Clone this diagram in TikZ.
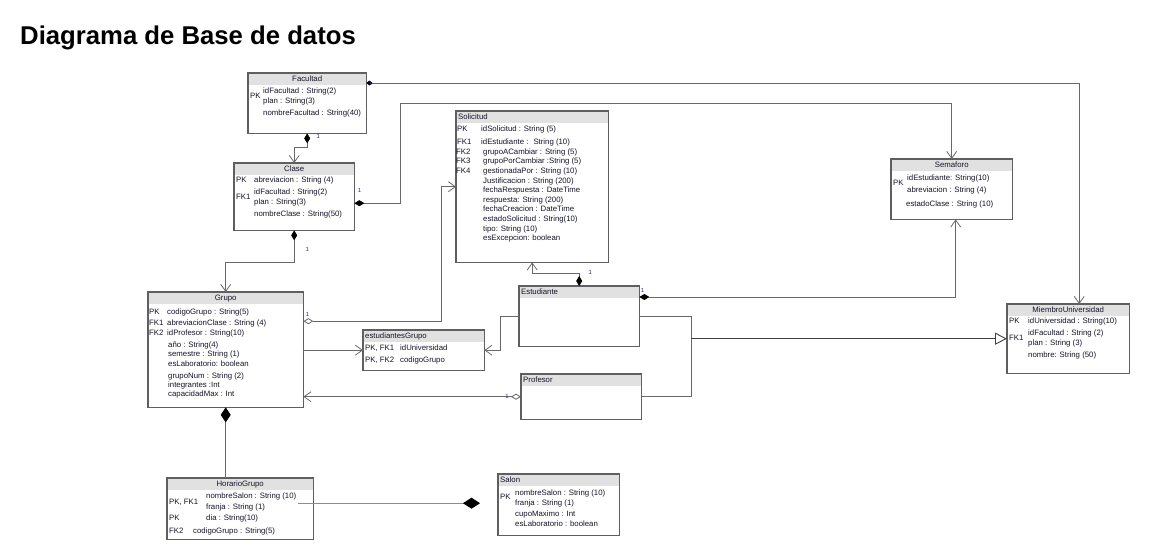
\documentclass[tikz,border=0pt]{standalone}
\usepackage{fontspec}
\setmainfont{Liberation Sans}
\usetikzlibrary{arrows.meta}

\definecolor{lineas}{RGB}{105,105,105}
\definecolor{bordes}{RGB}{95,95,95}
\definecolor{gris}{RGB}{225,225,225}
\definecolor{gris2}{RGB}{140,140,140}
\definecolor{texto}{RGB}{20,20,40}
\definecolor{azul}{RGB}{40,40,170}

\begin{document}
\begin{tikzpicture}[x=1pt,y=-1pt,
  tabla/.style={anchor=north west, fill=white, inner sep=0pt},
  borde/.style={draw=bordes, line width=1.1pt},
  titulo/.style={font=\fontsize{7.8}{8}\selectfont, text=texto, inner sep=0pt},
  atrib/.style={font=\fontsize{7.8}{8}\selectfont, text=texto, inner sep=0pt, anchor=mid west},
  uno/.style={font=\fontsize{6}{6}\selectfont, text=azul, inner sep=1pt},
  linea/.style={draw=lineas, line width=0.8pt},
  comp/.style={linea, {Diamond[length=10pt,width=6pt,color=black]}-{Straight Barb[length=7pt,width=10pt]}},
  agr/.style={linea, {Diamond[open,length=10pt,width=6pt]}-{Straight Barb[length=7pt,width=10pt]}},
  abre/.style={linea, -{Straight Barb[length=7pt,width=10pt]}},
  hereda/.style={draw=black!75, line width=0.9pt, -{Triangle[open,length=12pt,width=12pt]}}]
\useasboundingbox (0,0) rectangle (1151,557);

\node[anchor=base west, inner sep=0pt, font=\fontsize{25.7}{30}\selectfont\bfseries] (titulo) at (20,44) {Diagrama de Base de datos};

% tablas
\foreach \n/\x/\y/\w/\h in {facultad/248/73/118/60, clase/234/163/120/67, solicitud/456/111/152/151,
  semaforo/891/159/121/60, grupo/148/292/155/115, estgrupo/363/330/121/40, estudiante/519/286/120/60,
  profesor/521/374/120/45, miembro/1007/304/122/69, horario/167/478/146/61, salon/498/474/121/61} {
  \node[tabla, minimum width=\w pt, minimum height=\h pt] (\n) at (\x,\y) {};
  \fill[gris] (\n.north west) rectangle ++(\w,12);
  \draw[borde] (\n.north west) rectangle (\n.south east);
}
\foreach \n/\t in {facultad/Facultad, clase/Clase, semaforo/Semaforo, grupo/Grupo, miembro/MiembroUniversidad, horario/HorarioGrupo}
  \node[titulo, anchor=mid] (\n-tit) at ([yshift=-6pt]\n.north) {\t};
\foreach \n/\t in {solicitud/Solicitud, estgrupo/estudiantesGrupo, estudiante/Estudiante, profesor/Profesor, salon/Salon}
  \node[titulo, anchor=mid west] (\n-tit) at ([shift={(2pt,-6pt)}]\n.north west) {\t};

% Facultad
\foreach \x/\y/\t [count=\i] in {250/96/PK, 263/91/idFacultad : String(2), 263/101/plan : String(3), 263/113/nombreFacultad : String(40)}
  \node[atrib] (facultad-\i) at (\x,\y) {\t};
% Clase
\foreach \x/\y/\t [count=\i] in {236/180/PK, 254/180/abreviacion : String (4), 236/197/FK1, 254/192/idFacultad : String(2),
  254/202/plan : String(3), 254/214/nombreClase : String(50)}
  \node[atrib] (clase-\i) at (\x,\y) {\t};
% Solicitud
\foreach \x/\y/\t [count=\i] in {457/129/PK, 481/129/idSolicitud : String (5), 457/142/FK1, 481/142/idEstudiante : \ String (10),
  456/152/FK2, 483/152/grupoACambiar : String (5), 456/161/FK3, 483/161/grupoPorCambiar :String (5),
  456/171/FK4, 483/171/gestionadaPor : String (10), 483/181/Justificacion : String (200), 483/190/fechaRespuesta : DateTime,
  483/200/respuesta: String (200), 483/209/fechaCreacion : DateTime, 483/219/estadoSolicitud : String(10),
  483/229/tipo: String (10), 483/238/esExcepcion: boolean}
  \node[atrib] (solicitud-\i) at (\x,\y) {\t};
% Semaforo
\foreach \x/\y/\t [count=\i] in {893/183/PK, 907/178/idEstudiante: String(10), 907/190/abreviacion : String (4), 906/204/estadoClase : String (10)}
  \node[atrib] (semaforo-\i) at (\x,\y) {\t};
% Grupo
\foreach \x/\y/\t [count=\i] in {149/312/PK, 167/312/codigoGrupo : String(5), 149/323/FK1, 167/323/abreviacionClase : String (4),
  149/333/FK2, 167/333/idProfesor : String(10), 168/345/año : String(4), 168/354/semestre : String (1),
  168/364/esLaboratorio: boolean, 168/376/grupoNum : String (2), 168/385/integrantes :Int, 168/394/capacidadMax : Int}
  \node[atrib] (grupo-\i) at (\x,\y) {\t};
% estudiantesGrupo
\foreach \x/\y/\t [count=\i] in {365/348/{PK, FK1}, 400/348/idUniversidad, 365/360/{PK, FK2}, 400/360/codigoGrupo}
  \node[atrib] (estgrupo-\i) at (\x,\y) {\t};
% MiembroUniversidad
\foreach \x/\y/\t [count=\i] in {1009/321/PK, 1028/321/idUniversidad : String(10), 1009/338/FK1, 1028/333/idFacultad : String (2),
  1028/343/plan : String (3), 1028/355/nombre: String (50)}
  \node[atrib] (miembro-\i) at (\x,\y) {\t};
% HorarioGrupo
\foreach \x/\y/\t [count=\i] in {169/502/{PK, FK1}, 206/496/nombreSalon : String (10), 206/507/franja : String (1),
  169/518/PK, 206/518/dia : String(10), 169/531/FK2, 193/531/codigoGrupo : String(5)}
  \node[atrib] (horario-\i) at (\x,\y) {\t};
% Salon
\foreach \x/\y/\t [count=\i] in {500/497/PK, 515/493/nombreSalon : String (10), 515/503/franja : String (1),
  515/514/cupoMaximo : Int, 515/524/esLaboratorio : boolean}
  \node[atrib] (salon-\i) at (\x,\y) {\t};

% relaciones
\draw[comp] (facultad.south) node[uno, anchor=north west, xshift=8pt] (uno-fac) {1} -- ++(0,14) -| (clase.north);
\draw[linea, {Diamond[length=6pt,width=5pt,color=black]}-{Straight Barb[length=7pt,width=10pt]}] ([yshift=-10pt]facultad.north east)
  node[uno, anchor=west, xshift=1pt] (uno-mie) {1} -| ([xshift=11pt]miembro.north);
\draw[comp] ([yshift=-6.5pt]clase.east) node[uno, anchor=south west, xshift=2pt, yshift=9pt] (uno-sem) {1}
  -- ++(46,0) -- ++(0,-100) -| (semaforo.north);
\draw[comp] (clase.south) node[uno, anchor=north west, xshift=10pt, yshift=-16pt] (uno-gru) {1} -- ++(0,32) -| (grupo.north);
\draw[agr] ([yshift=28.5pt]grupo.east) node[uno, anchor=south west, xshift=1pt, yshift=3pt] (uno-sol) {1} -- ++(138,0) |- (solicitud.west);
\draw[abre] (grupo.east |- estgrupo.west) -- (estgrupo.west);
\draw[abre] (estudiante.west) -- ++(-19,0) |- (estgrupo.east);
\draw[agr] (profesor.west) node[uno, anchor=east, xshift=-11pt] (uno-pro) {1} -- (grupo.east |- profesor.west);
\draw[comp] (estudiante.north) node[uno, anchor=south west, xshift=8pt, yshift=10pt] (uno-est) {1} -- ++(0,-13) -| (solicitud.south);
\draw[comp] ([yshift=-11pt]estudiante.north east) node[uno, anchor=south west, yshift=3pt] (uno-est2) {1} -| ([xshift=4pt]semaforo.south);
\draw[linea] (estudiante.east) -- ++(52,0) coordinate (union) |- (profesor.east);
\draw[hereda] (union |- miembro.west) -- (miembro.west);
\draw[linea, {Diamond[length=15pt,width=10pt,color=black]}-] (grupo.south) -- (grupo.south |- horario.north);
\draw[draw=gris2, line width=1.3pt, -{Diamond[length=17pt,width=11pt,color=black]}] ([shift={(-15pt,5.5pt)}]horario.east)
  -- ([shift={(-18pt,1.5pt)}]salon.west);
\end{tikzpicture}
\end{document}
